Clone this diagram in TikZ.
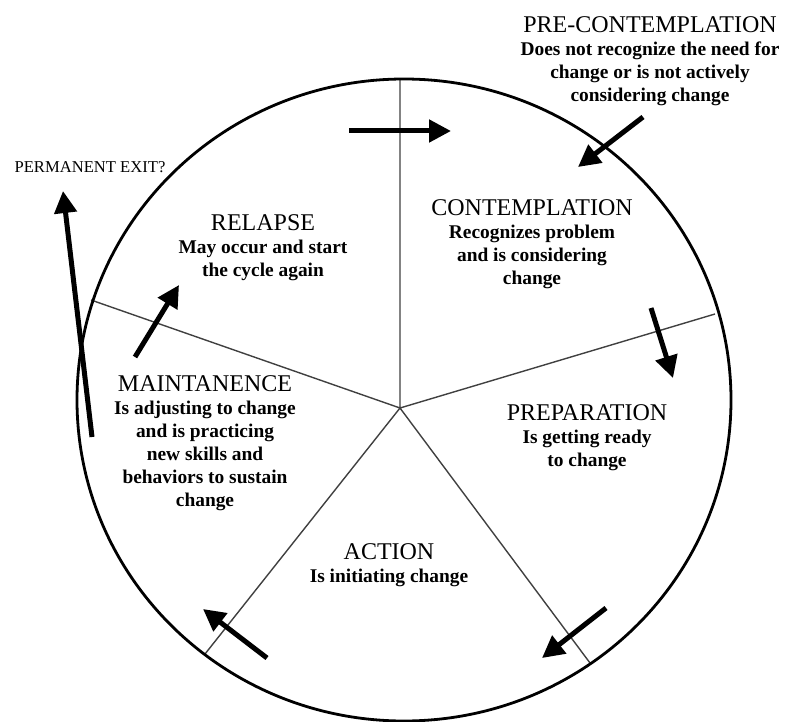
\documentclass[tikz,border=0pt]{standalone}
\usepackage{fontspec}
\setmainfont{Liberation Serif}
\usetikzlibrary{arrows.meta,positioning}
\tikzset{
  stagetitle/.style={inner sep=0pt,font=\fontsize{12}{13}\selectfont},
  stagebody/.style={inner sep=0pt,align=center,font=\fontsize{9.7}{11.5}\selectfont\bfseries},
  spoke/.style={black!75,line width=0.7pt},
  bigarrow/.style={line width=2.5pt,-{Triangle[length=11pt,width=11pt]}}
}
\begin{document}
\begin{tikzpicture}[x=0.5pt,y=-0.5pt]
\useasboundingbox (0,0) rectangle (787,722);
% wheel
\coordinate (hub) at (400,408);
\coordinate (s1) at (400,79);
\coordinate (s2) at (715,314);
\coordinate (s3) at (590,663);
\coordinate (s4) at (205,654);
\coordinate (s5) at (91,300);
\draw[spoke] (hub)--(s1) (hub)--(s2) (hub)--(s3) (hub)--(s4) (hub)--(s5);
\draw[line width=1.4pt] (404,400) ellipse [x radius=163.5pt, y radius=160.5pt];
% stages
\node[stagetitle] (precon) at (650,25) {PRE-CONTEMPLATION};
\node[stagebody,below=4pt of precon] (precontext) {Does not recognize the need for\\change or is not actively\\considering change};
\node[stagetitle] (contemp) at (532,208) {CONTEMPLATION};
\node[stagebody,below=4pt of contemp] (contemptext) {Recognizes problem\\and is considering\\change};
\node[stagetitle] (prep) at (587,413) {PREPARATION};
\node[stagebody,below=4pt of prep] (preptext) {Is getting ready\\to change};
\node[stagetitle] (action) at (389,552) {ACTION};
\node[stagebody,below=4pt of action] (actiontext) {Is initiating change};
\node[stagetitle] (maint) at (205,384) {MAINTANENCE};
\node[stagebody,below=4pt of maint] (mainttext) {Is adjusting to change\\and is practicing\\new skills and\\behaviors to sustain\\change};
\node[stagetitle] (relapse) at (263,223) {RELAPSE};
\node[stagebody,below=4pt of relapse] (relapsetext) {May occur and start\\the cycle again};
\node[inner sep=0pt,font=\fontsize{8.3}{9}\selectfont] (exit) at (90,167) {PERMANENT EXIT?};
% arrows
\coordinate (a1) at (349,131); \coordinate (b1) at (451,131);
\coordinate (a2) at (643,117); \coordinate (b2) at (578,167);
\coordinate (a3) at (651,308); \coordinate (b3) at (673,378);
\coordinate (a4) at (606,608); \coordinate (b4) at (542,658);
\coordinate (a5) at (267,658); \coordinate (b5) at (203,609);
\coordinate (a6) at (135,357); \coordinate (b6) at (179,285);
\coordinate (a7) at (92,437);  \coordinate (b7) at (63,191);
\foreach \i in {1,...,7}
  \draw[bigarrow] (a\i)--(b\i);
\end{tikzpicture}
\end{document}
